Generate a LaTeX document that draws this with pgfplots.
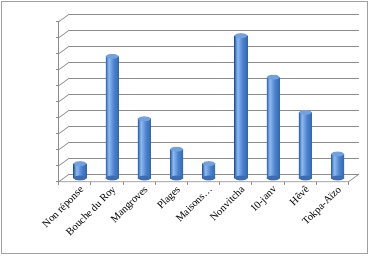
\documentclass[border=0pt]{standalone}
\usepackage{pgfplots}
\pgfplotsset{compat=1.18}
\usepackage{fontspec}
\setmainfont{Liberation Serif}
\definecolor{gridc}{HTML}{8C8C8C}
\definecolor{framec}{HTML}{A0A0A0}
\definecolor{capc}{HTML}{74A0DC}
\definecolor{botc}{HTML}{3D6DB0}
\pgfdeclarehorizontalshading{cylshade}{100bp}{%
  rgb(0bp)=(0.20,0.38,0.66);
  rgb(25bp)=(0.22,0.40,0.68);
  rgb(30bp)=(0.38,0.58,0.85);
  rgb(36bp)=(0.56,0.73,0.93);
  rgb(43bp)=(0.45,0.65,0.90);
  rgb(55bp)=(0.30,0.51,0.80);
  rgb(68bp)=(0.24,0.44,0.73);
  rgb(75bp)=(0.20,0.38,0.66);
  rgb(100bp)=(0.20,0.38,0.66)}
\pgfdeclareplotmark{capell}{%
  \pgfpathellipse{\pgfpointorigin}{\pgfpoint{6.5pt}{0pt}}{\pgfpoint{0pt}{2.4pt}}%
  \pgfusepath{fill}}
\pgfplotsset{cyl/.style={draw=none, shading=cylshade, shading angle=0, forget plot, mark=none}}
\begin{document}
\begin{tikzpicture}[x=1pt,y=1pt]
\useasboundingbox (0,0) rectangle (369,255);
\draw[framec, line width=0.8pt] (1,1.5) rectangle (367.5,254);
\begin{axis}[
  at={(63.9pt,77pt)}, anchor=south west,
  scale only axis, width=289.8pt, height=160pt,
  xmin=-0.5, xmax=8.5, ymin=0, ymax=10,
  clip=false,
  axis line style={draw=none},
  major tick length=0pt,
  ytick=\empty,
  xtick={0,...,8},
  xticklabels={Non réponse,Bouche du Roy,Mangroves,Plages,Maisons\ldots,Nonvitcha,10-janv,Hêvê,Tokpa-Aïzo},
  xticklabel style={xshift=-1pt, yshift=-7pt, rotate=45, anchor=north east, inner sep=0pt, font=\fontsize{10.5}{12}\selectfont},
]
% back wall gridlines and left wall diagonals
\pgfplotsinvokeforeach{0,...,10}{
  \draw[gridc, line width=0.7pt] (axis cs:-0.334,#1+0.24) -- (axis cs:8.666,#1+0.24);
  \draw[gridc, line width=0.7pt] (axis cs:-0.666,#1-0.24) -- (axis cs:-0.334,#1+0.24);
  \draw[gridc, line width=0.7pt] (axis cs:-0.666,#1-0.24) -- ++(-3pt,0pt);
}
\draw[gridc, line width=0.7pt] (axis cs:-0.666,-0.24) -- (axis cs:-0.666,9.76);
% floor
\draw[gridc, line width=0.7pt] (axis cs:-0.666,-0.24) -- (axis cs:8.334,-0.24) -- (axis cs:8.666,0.24);
\pgfplotsinvokeforeach{0,...,9}{
  \draw[gridc, line width=0.7pt] (axis cs:#1-0.666,-0.24) -- ++(0pt,-3.5pt);
}
% bottom caps
\addplot[only marks, mark=capell, mark options={fill=botc, draw=none}] coordinates {
(0,0) (1,0) (2,0) (3,0) (4,0) (5,0) (6,0) (7,0) (8,0)};
% cylinder bodies, one per category (value = bar height)
\addplot[cyl] coordinates {(-0.2,0) (-0.2,0.9) (0.2,0.9) (0.2,0)} -- cycle;
\addplot[cyl] coordinates {(0.8,0) (0.8,7.6) (1.2,7.6) (1.2,0)} -- cycle;
\addplot[cyl] coordinates {(1.8,0) (1.8,3.7) (2.2,3.7) (2.2,0)} -- cycle;
\addplot[cyl] coordinates {(2.8,0) (2.8,1.8) (3.2,1.8) (3.2,0)} -- cycle;
\addplot[cyl] coordinates {(3.8,0) (3.8,0.9) (4.2,0.9) (4.2,0)} -- cycle;
\addplot[cyl] coordinates {(4.8,0) (4.8,8.9) (5.2,8.9) (5.2,0)} -- cycle;
\addplot[cyl] coordinates {(5.8,0) (5.8,6.3) (6.2,6.3) (6.2,0)} -- cycle;
\addplot[cyl] coordinates {(6.8,0) (6.8,4.1) (7.2,4.1) (7.2,0)} -- cycle;
\addplot[cyl] coordinates {(7.8,0) (7.8,1.5) (8.2,1.5) (8.2,0)} -- cycle;
% top caps
\addplot[only marks, mark=capell, mark options={fill=capc, draw=none}] coordinates {
(0,0.9) (1,7.6) (2,3.7) (3,1.8) (4,0.9) (5,8.9) (6,6.3) (7,4.1) (8,1.5)};
\end{axis}
\end{tikzpicture}
\end{document}
